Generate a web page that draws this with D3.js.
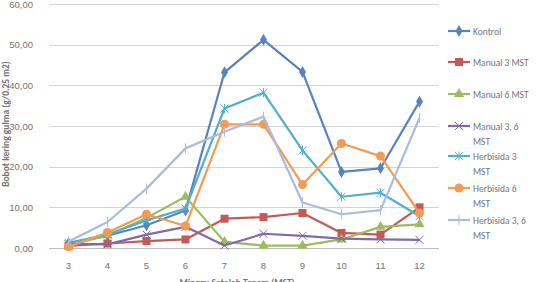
<!DOCTYPE html>
<html>
<head>
<meta charset="utf-8">
<script src="https://cdn.jsdelivr.net/npm/d3@7"></script>
<style>
  html, body { margin: 0; padding: 0; background: #fff; }
  svg { display: block; font-family: Carlito, Calibri, "Liberation Sans", "DejaVu Sans", sans-serif; }
</style>
</head>
<body>
<div id="chart"></div>
<script>
(function () {
  'use strict';

  // weeks after planting (MST)
  var weeks = ['3', '4', '5', '6', '7', '8', '9', '10', '11', '12'];
  var yTicks = [0, 10, 20, 30, 40, 50, 60];

  var kontrol     = [1.2, 3.0, 5.6, 9.2, 43.2, 51.2, 43.3, 18.7, 19.6, 36.0];
  var manual3     = [0.5, 1.1, 1.7, 2.1, 7.2, 7.6, 8.6, 3.7, 3.3, 10.0];
  var manual6     = [0.6, 3.1, 7.4, 12.6, 1.5, 0.6, 0.6, 2.1, 5.2, 5.8];
  var manual36    = [1.0, 0.9, 3.3, 5.2, 0.6, 3.5, 3.0, 2.3, 2.1, 2.0];
  var herbisida3  = [1.3, 3.3, 6.8, 9.7, 34.3, 38.2, 24.0, 12.6, 13.6, 7.8];
  var herbisida6  = [0.3, 3.8, 8.3, 5.4, 30.4, 30.4, 15.6, 25.7, 22.6, 8.6];
  var herbisida36 = [1.6, 6.4, 14.6, 24.5, 28.6, 32.3, 11.2, 8.3, 9.3, 32.0];

  var seriesValues = [kontrol, manual3, manual6, manual36, herbisida3, herbisida6, herbisida36];
  // legend labels, wrapped as in the picture
  var legendLines = [['Kontrol'], ['Manual 3 MST'], ['Manual 6 MST'], ['Manual 3, 6', 'MST'],
    ['Herbisida 3', 'MST'], ['Herbisida 6', 'MST'], ['Herbisida 3, 6', 'MST']];
  var colors = ['#5a82c0', '#c45a56', '#9dbc5e', '#8469a6', '#52afc8', '#f49a52', '#a9bbde'];
  var markers = ['diamond', 'square', 'triangle', 'x', 'star', 'circle', 'plus'];

  var W = 538, H = 282;
  var margin = { top: 4, right: 99, bottom: 34, left: 49 };
  var innerW = W - margin.left - margin.right;
  var innerH = 248 - margin.top;
  var textColor = '#737373';
  var fontSize = '9.5px';

  var svg = d3.select('#chart').append('svg').attr('width', W).attr('height', H);
  var g = svg.append('g').attr('transform', 'translate(' + margin.left + ',' + margin.top + ')');

  var x = d3.scaleBand().domain(weeks).range([0, innerW]);
  var y = d3.scaleLinear().domain([0, 60]).range([innerH, 0]);

  // gridlines
  g.append('g').selectAll('line').data(yTicks).join('line')
    .attr('x1', 0).attr('x2', innerW)
    .attr('y1', function (d) { return Math.round(y(d)) + 0.5; })
    .attr('y2', function (d) { return Math.round(y(d)) + 0.5; })
    .attr('stroke', function (d) { return d === 0 ? '#bdbdbd' : '#d4d4d4'; })
    .attr('stroke-width', 1);

  var yAxis = g.append('g').call(d3.axisLeft(y).tickValues(yTicks).tickSize(0).tickPadding(16)
    .tickFormat(function (d) { return d3.format('.2f')(d).replace('.', ','); }));
  yAxis.select('.domain').remove();
  yAxis.selectAll('text').attr('fill', textColor).attr('font-size', fontSize);

  var xAxis = g.append('g').attr('transform', 'translate(0,' + innerH + ')')
    .call(d3.axisBottom(x).tickSize(0).tickPadding(14));
  xAxis.select('.domain').remove();
  xAxis.selectAll('text').attr('fill', textColor).attr('font-size', fontSize);

  // axis titles
  svg.append('text')
    .attr('transform', 'translate(9,' + 124 + ') rotate(-90)')
    .attr('text-anchor', 'middle').attr('fill', textColor).attr('font-size', fontSize)
    .attr('font-weight', 'bold')
    .text('Bobot kering gulma (g/0.25 m2)');
  svg.append('text')
    .attr('x', margin.left + innerW / 2 - 7).attr('y', 286)
    .attr('text-anchor', 'middle').attr('fill', textColor).attr('font-size', fontSize)
    .attr('font-weight', 'bold')
    .text('Minggu Setelah Tanam (MST)');

  function drawMarker(sel, type, color) {
    if (type === 'diamond') {
      sel.append('path').attr('d', d3.symbol(d3.symbolDiamond, 42)).attr('fill', color);
    } else if (type === 'square') {
      sel.append('rect').attr('x', -4).attr('y', -4).attr('width', 8).attr('height', 8).attr('fill', color);
    } else if (type === 'triangle') {
      sel.append('path').attr('d', d3.symbol(d3.symbolTriangle, 45)).attr('fill', color);
    } else if (type === 'circle') {
      sel.append('circle').attr('r', 4.5).attr('fill', color);
    } else if (type === 'x') {
      sel.append('path').attr('d', 'M-4,-4L4,4M-4,4L4,-4').attr('stroke', color).attr('stroke-width', 1);
    } else if (type === 'star') {
      sel.append('path').attr('d', 'M-4,-4L4,4M-4,4L4,-4M0,-4.5L0,4.5').attr('stroke', color).attr('stroke-width', 1);
    } else if (type === 'plus') {
      sel.append('path').attr('d', 'M0,-5L0,5').attr('stroke', color).attr('stroke-width', 1);
    }
  }

  var line = d3.line()
    .x(function (d, i) { return x(weeks[i]) + x.bandwidth() / 2; })
    .y(function (d) { return y(d); });

  seriesValues.forEach(function (vals, k) {
    var sg = g.append('g');
    sg.append('path').datum(vals).attr('d', line)
      .attr('fill', 'none').attr('stroke', colors[k]).attr('stroke-width', 2.2)
      .attr('stroke-linejoin', 'round');
    vals.forEach(function (v, i) {
      var m = sg.append('g')
        .attr('transform', 'translate(' + (x(weeks[i]) + x.bandwidth() / 2) + ',' + y(v) + ')');
      drawMarker(m, markers[k], colors[k]);
    });
  });

  // legend
  var legendY = [31, 62, 94, 126, 156, 188, 220];
  var lg = svg.append('g');
  legendLines.forEach(function (lines, k) {
    var item = lg.append('g').attr('transform', 'translate(448,' + legendY[k] + ')');
    item.append('line').attr('x1', 0).attr('x2', 22).attr('y1', 0).attr('y2', 0)
      .attr('stroke', colors[k]).attr('stroke-width', 2.2);
    var m = item.append('g').attr('transform', 'translate(11,0)');
    drawMarker(m, markers[k], colors[k]);
    lines.forEach(function (t, j) {
      item.append('text').attr('x', 25).attr('y', j * 14.5 + 4)
        .attr('fill', textColor).attr('font-size', fontSize).text(t);
    });
  });
})();
</script>
</body>
</html>
